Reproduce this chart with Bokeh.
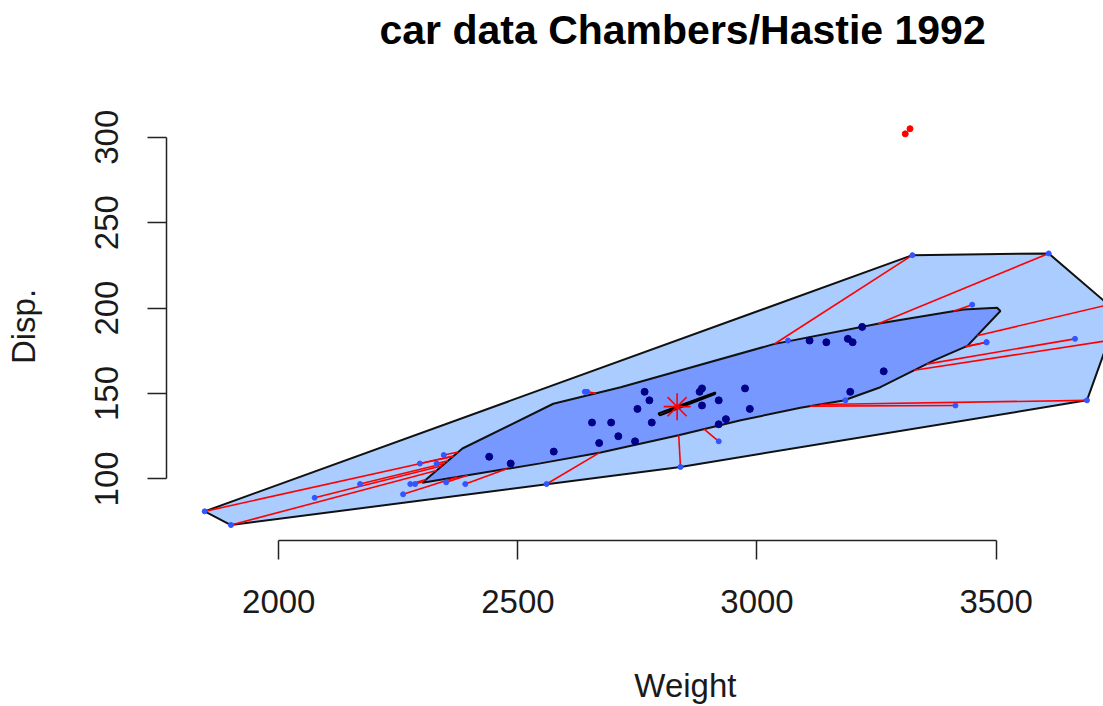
import math
from bokeh.plotting import figure
from bokeh.models import FixedTicker, Range1d
from bokeh.embed import file_html
from bokeh.resources import INLINE

# ---- car.test.frame (Chambers/Hastie 1992): Weight, Disp. ----
car_names = [
    "Eagle Summit 4", "Ford Escort 4", "Ford Festiva 4", "Honda Civic 4", "Mazda Protege 4",
    "Mercury Tracer 4", "Nissan Sentra 4", "Pontiac LeMans 4", "Subaru Loyale 4", "Subaru Justy 3",
    "Toyota Corolla 4", "Toyota Tercel 4", "Volkswagen Jetta 4", "Chevrolet Camaro V8", "Dodge Daytona",
    "Ford Mustang V8", "Ford Probe", "Honda Civic CRX Si 4", "Honda Prelude Si 4WS 4", "Nissan 240SX 4",
    "Plymouth Laser", "Subaru XT 4", "Audi 80 4", "Buick Skylark 4", "Chevrolet Beretta 4",
    "Chrysler Le Baron V6", "Ford Tempo 4", "Honda Accord 4", "Mazda 626 4", "Mitsubishi Galant 4",
    "Mitsubishi Sigma V6", "Nissan Stanza 4", "Oldsmobile Calais 4", "Peugeot 405 4", "Subaru Legacy 4",
    "Toyota Camry 4", "Volvo 240 4", "Acura Legend V6", "Buick Century 4", "Chrysler Le Baron Coupe",
    "Chrysler New Yorker V6", "Eagle Premier V6", "Ford Taurus V6", "Ford Thunderbird V6", "Hyundai Sonata 4",
    "Mazda 929 V6", "Nissan Maxima V6", "Oldsmobile Cutlass Ciera 4", "Oldsmobile Cutlass Supreme V6", "Toyota Cressida 6",
    "Buick Le Sabre V6", "Chevrolet Caprice V8", "Ford LTD Crown Victoria V8", "Chevrolet Lumina APV V6", "Dodge Grand Caravan V6",
    "Ford Aerostar V6", "Mazda MPV V6", "Mitsubishi Wagon 4", "Nissan Axxess 4", "Nissan Van 4",
]
weight = [
    2560, 2345, 1845, 2260, 2440, 2285, 2275, 2350, 2295, 1900,
    2390, 2075, 2330, 3320, 2885, 3310, 2695, 2170, 2710, 2775,
    2840, 2485, 2670, 2640, 2655, 3065, 2750, 2920, 2780, 2745,
    3110, 2920, 2645, 2575, 2935, 2920, 2985, 3265, 2880, 2975,
    3450, 3145, 3190, 3610, 2885, 3480, 3200, 2765, 3220, 3480,
    3325, 3855, 3850, 3195, 3735, 3665, 3735, 3415, 3185, 3690,
]
disp = [
    97, 114, 81, 91, 113, 97, 97, 98, 109, 73,
    97, 89, 109, 305, 153, 302, 133, 97, 125, 146,
    107, 109, 121, 151, 133, 181, 141, 132, 133, 122,
    181, 146, 151, 116, 135, 122, 141, 163, 151, 153,
    202, 180, 182, 232, 143, 180, 180, 151, 189, 180,
    231, 305, 302, 151, 202, 182, 181, 143, 146, 146,
]
group = [
    "loop", "loop", "loop", "loop", "bag", "loop", "loop", "loop", "loop", "loop",
    "loop", "loop", "loop", "outlier", "bag", "outlier", "bag", "loop", "bag", "bag",
    "loop", "bag", "bag", "loop", "bag", "loop", "bag", "bag", "bag", "bag",
    "bag", "bag", "loop", "bag", "bag", "loop", "bag", "bag", "bag", "bag",
    "loop", "bag", "bag", "loop", "bag", "loop", "bag", "bag", "bag", "loop",
    "loop", "outlier", "outlier", "bag", "loop", "loop", "loop", "loop", "loop", "loop",
]

# bag hull (depth region)
bag_w = [2300, 2384, 2574, 2715, 3035, 3258, 3432, 3502, 3509,
         3440, 3369, 3258, 3181, 3091, 2966, 2836, 2673, 2547]
bag_d = [97.8, 117.8, 144.0, 153.7, 178.9, 191.1, 199.2, 200.2, 198.3,
         177.9, 169.2, 153.7, 145.9, 141.7, 134.3, 125.6, 115.5, 109.1]

# depth median (center) and Tukey median region
center_w, center_d = 2833, 142.3
median_w = [2794, 2913, 2912, 2797]
median_d = [138.3, 150.6, 149.6, 137.2]

x_ticks = [2000, 2500, 3000, 3500]
y_ticks = [100, 150, 200, 250, 300]

title_text = "car data Chambers/Hastie 1992"
x_label = "Weight"
y_label = "Disp."

FONT = "Liberation Sans"


def cross(o, a, b):
    return (a[0] - o[0]) * (b[1] - o[1]) - (a[1] - o[1]) * (b[0] - o[0])


def convex_hull(pts):
    pts = sorted(set(pts))
    lower, upper = [], []
    for q in pts:
        while len(lower) >= 2 and cross(lower[-2], lower[-1], q) <= 0:
            lower.pop()
        lower.append(q)
    for q in reversed(pts):
        while len(upper) >= 2 and cross(upper[-2], upper[-1], q) <= 0:
            upper.pop()
        upper.append(q)
    return lower[:-1] + upper[:-1]


inner_pts = [(w, d) for w, d, g in zip(weight, disp, group) if g != "outlier"]
hull = convex_hull(inner_pts)
hull_w = [h[0] for h in hull]
hull_d = [h[1] for h in hull]

loop_w = [w for w, g in zip(weight, group) if g == "loop"]
loop_d = [d for d, g in zip(disp, group) if g == "loop"]
bagp_w = [w for w, g in zip(weight, group) if g == "bag"]
bagp_d = [d for d, g in zip(disp, group) if g == "bag"]
out_w = [w for w, g in zip(weight, group) if g == "outlier"]
out_d = [d for d, g in zip(disp, group) if g == "outlier"]

# whiskers: from each loop point toward the center, up to the bag boundary
bag_poly = list(zip(bag_w, bag_d))
wx0, wy0, wx1, wy1 = [], [], [], []
for px, py in zip(loop_w, loop_d):
    rx, ry = center_w - px, center_d - py
    best = None
    n = len(bag_poly)
    for i in range(n):
        ax, ay = bag_poly[i]
        bx, by = bag_poly[(i + 1) % n]
        sx, sy = bx - ax, by - ay
        den = rx * sy - ry * sx
        if abs(den) < 1e-12:
            continue
        qx, qy = ax - px, ay - py
        t = (qx * sy - qy * sx) / den
        u = (qx * ry - qy * rx) / den
        if 0 <= t <= 1 and 0 <= u <= 1:
            if best is None or t < best:
                best = t
    if best is None:
        best = 1.0
    wx0.append(px)
    wy0.append(py)
    wx1.append(px + best * rx)
    wy1.append(py + best * ry)

p = figure(
    width=1103, height=706,
    x_range=Range1d(1765.2, 3724.6), y_range=Range1d(63.95, 314.5),
    output_backend="svg", toolbar_location=None,
    min_border_left=166, min_border_right=0, min_border_top=110, min_border_bottom=165,
)
p.grid.visible = False
p.outline_line_color = None
p.background_fill_color = "white"
p.border_fill_color = "white"

# title (two-line box with an empty second line lifts it toward the top edge)
p.title.text = title_text + "\n\u00a0"
p.title.align = "left"
p.title.offset = 213
p.title.standoff = 10
p.title.vertical_align = "bottom"
p.title.text_line_height = 1.18
p.title.text_font = FONT
p.title.text_font_style = "bold"
p.title.text_font_size = "41px"
p.title.text_color = "black"

# loop hull and bag
p.patch(hull_w, hull_d, fill_color="#aaccff", line_color="#111111", line_width=2)
p.patch(bag_w, bag_d, fill_color="#7799ff", line_color="#111111", line_width=2)

# whiskers
p.segment(wx0, wy0, wx1, wy1, line_color="red", line_width=1.6)

# points
p.scatter(loop_w, loop_d, size=5, color="#3355ff", marker="circle")
p.scatter(bagp_w, bagp_d, size=7, color="#000088", marker="circle")
p.scatter(out_w, out_d, size=6, color="red", marker="circle")

# center
p.patch(median_w, median_d, fill_color="orange", line_color="black", line_width=2)
p.scatter([center_w], [center_d], marker="asterisk", size=27, line_color="red", line_width=1.6)

# axes (R style: line only between first and last tick)
for ax in (p.xaxis[0], p.yaxis[0]):
    ax.axis_line_color = "#222222"
    ax.axis_line_width = 1.5
    ax.major_tick_line_color = "#222222"
    ax.major_tick_line_width = 1.5
    ax.major_tick_out = 19
    ax.major_tick_in = 0
    ax.minor_tick_line_color = None
    ax.major_label_text_font = FONT
    ax.major_label_text_font_size = "33px"
    ax.major_label_text_color = "#1a1a1a"
    ax.axis_label_text_font = FONT
    ax.axis_label_text_font_size = "33px"
    ax.axis_label_text_font_style = "normal"
    ax.axis_label_text_color = "#1a1a1a"

p.xaxis.ticker = FixedTicker(ticks=x_ticks)
p.xaxis.bounds = (x_ticks[0], x_ticks[-1])
p.xaxis.major_label_standoff = 30
# leading no-break spaces shift the centred label to the centre of R's full plot region
p.xaxis.axis_label = "\u00a0" * 11 + x_label
p.xaxis.axis_label_standoff = 51

p.yaxis.ticker = FixedTicker(ticks=y_ticks)
p.yaxis.bounds = (y_ticks[0], y_ticks[-1])
p.yaxis.major_label_orientation = "vertical"
p.yaxis.major_label_standoff = 29
p.yaxis.axis_label = y_label
p.yaxis.axis_label_standoff = 51

open("out.html", "w").write(file_html(p, INLINE))
